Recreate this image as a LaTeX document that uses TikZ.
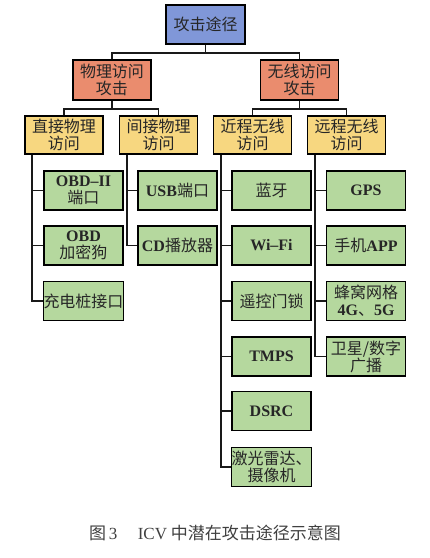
\documentclass[tikz,border=0pt]{standalone}
\usepackage{fontspec}
\setmainfont{Liberation Serif}
\newfontfamily\cjk{Noto Sans CJK SC}
\newcommand{\lat}[1]{{\rmfamily\bfseries #1}}
\newcommand{\latn}[1]{{\rmfamily #1}}
\definecolor{cblue}{RGB}{128,151,216}
\definecolor{corange}{RGB}{234,140,110}
\definecolor{cyellow}{RGB}{247,215,128}
\definecolor{cgreen}{RGB}{181,216,158}
\tikzset{
  box/.style={draw=black, line width=1.6pt, inner sep=0pt, align=center,
    font=\cjk\fontsize{16}{17}\selectfont, text=black!85},
  top/.style={box, fill=cblue, minimum width=79pt, minimum height=39pt},
  lvtwo/.style={box, fill=corange, minimum width=78pt, minimum height=40pt},
  lvthree/.style={box, fill=cyellow, minimum width=78pt, minimum height=38pt},
  leaf/.style={box, fill=cgreen, minimum width=79pt, minimum height=39pt},
  conn/.style={draw=black!90, line width=1.8pt},
}
\begin{document}
\begin{tikzpicture}[x=1pt, y=-1pt]
\useasboundingbox[fill=white] (0,0) rectangle (430,558);
% level 1
\node[top] (root) at (205.5,24.5) {攻击途径};
% level 2
\node[lvtwo] (phys) at (112,80) {物理访问\\攻击};
\node[lvtwo] (wire) at (299.5,80) {无线访问\\攻击};
% level 3
\node[lvthree] (dir) at (64,135) {直接物理\\访问};
\node[lvthree] (ind) at (158.5,135) {间接物理\\访问};
\node[lvthree] (near) at (252.5,135) {近程无线\\访问};
\node[lvthree] (far) at (346.5,135) {远程无线\\访问};
% leaves: direct
\node[leaf] (d1) at (83.5,190.5) {\lat{OBD–II}\\端口};
\node[leaf] (d2) at (83.5,245.5) {\lat{OBD}\\加密狗};
\node[leaf] (d3) at (83.5,301) {充电桩接口};
% leaves: indirect
\node[leaf] (i1) at (177.5,190.5) {\lat{USB}端口};
\node[leaf] (i2) at (177.5,245.5) {\lat{CD}播放器};
% leaves: near
\node[leaf] (n1) at (271.5,190.5) {蓝牙};
\node[leaf] (n2) at (271.5,245.5) {\lat{Wi–Fi}};
\node[leaf] (n3) at (271.5,301) {遥控门锁};
\node[leaf] (n4) at (271.5,356.5) {\lat{TMPS}};
\node[leaf] (n5) at (271.5,411) {\lat{DSRC}};
\node[leaf] (n6) at (271.5,467) {激光雷达、\\摄像机};
% leaves: far
\node[leaf] (f1) at (366,190.5) {\lat{GPS}};
\node[leaf] (f2) at (366,245.5) {手机\lat{APP}};
\node[leaf] (f3) at (366,301) {蜂窝网格\\\lat{4G}、\lat{5G}};
\node[leaf] (f4) at (366,356.5) {卫星/数字\\广播};
% tree connectors
\draw[conn] (root.south) -- ++(0,8) coordinate (rj) -| (phys.north);
\draw[conn] (rj) -| (wire.north);
\draw[conn] (phys.south) -- ++(0,8) coordinate (pj) -| (dir.north);
\draw[conn] (pj) -| (ind.north);
\draw[conn] (wire.south) -- ++(0,8) coordinate (wj) -| (near.north);
\draw[conn] (wj) -| (far.north);
% leaf connectors
\draw[conn] ([xshift=8pt]dir.south west) |- (d3.west);
\draw[conn] ([xshift=8pt]dir.south west |- d1.west) -- (d1.west);
\draw[conn] ([xshift=8pt]dir.south west |- d2.west) -- (d2.west);
\draw[conn] ([xshift=8pt]ind.south west) |- (i2.west);
\draw[conn] ([xshift=8pt]ind.south west |- i1.west) -- (i1.west);
\draw[conn] ([xshift=8pt]near.south west) |- (n6.west);
\foreach \n in {n1,n2,n3,n4,n5}
  \draw[conn] ([xshift=8pt]near.south west |- \n.west) -- (\n.west);
\draw[conn] ([xshift=8pt]far.south west) |- (f4.west);
\foreach \n in {f1,f2,f3}
  \draw[conn] ([xshift=8pt]far.south west |- \n.west) -- (\n.west);
% caption
\node[font=\cjk\fontsize{17}{19}\selectfont, text=black!75] (cap) at (215,533)
  {图\,\latn{3}\hspace{1.2em}\latn{ICV} 中潜在攻击途径示意图};
\end{tikzpicture}
\end{document}
